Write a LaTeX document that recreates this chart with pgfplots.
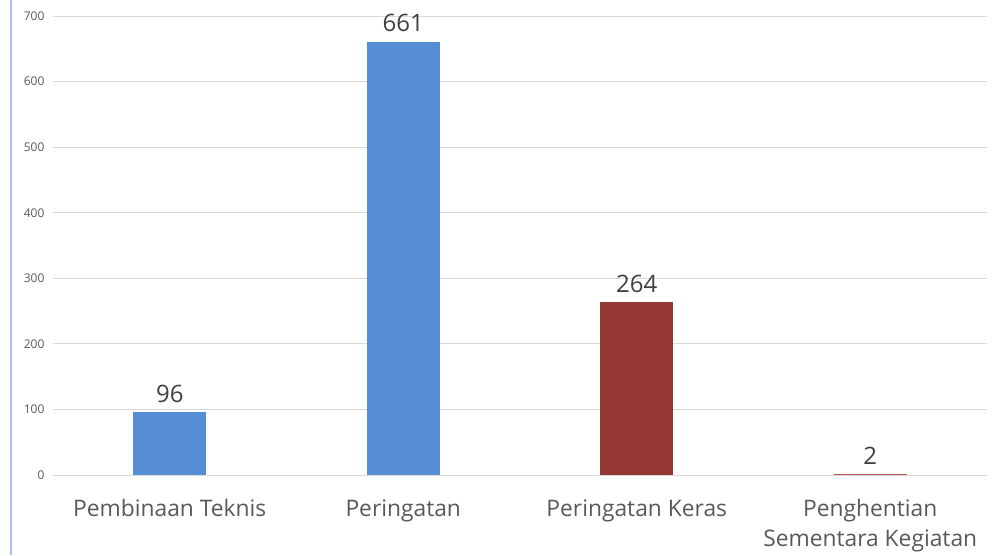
\documentclass[border=0pt]{standalone}
\usepackage{pgfplots}
\pgfplotsset{compat=1.18}
\usepackage{fontspec}
\setmainfont{Open Sans}
\definecolor{barblue}{HTML}{558ED5}
\definecolor{bardred}{HTML}{953735}
\definecolor{barred}{HTML}{C0504D}
\definecolor{gridc}{HTML}{D9D9D9}
\definecolor{labc}{HTML}{595959}
\definecolor{valc}{HTML}{404040}
\definecolor{edgec}{HTML}{A7C3E5}
\begin{document}
\begin{tikzpicture}
\path[use as bounding box] (0,0) rectangle (999pt,555pt);
\begin{axis}[
  at={(53pt,80pt)}, anchor=south west,
  scale only axis, width=934pt, height=459pt,
  xmin=-0.5, xmax=3.5, ymin=0, ymax=700,
  ytick={0,100,...,700},
  xtick={0,1,2,3},
  xticklabels={Pembinaan Teknis,Peringatan,Peringatan Keras,{Penghentian\\Sementara Kegiatan}},
  xticklabel style={align=center, font=\fontsize{22.8}{30}\selectfont, text=labc, yshift=-21pt},
  yticklabel style={font=\fontsize{12}{14}\selectfont, text=labc, xshift=-5pt},
  /pgf/number format/assume math mode=true,
  ymajorgrids, grid style={gridc, line width=1pt},
  axis line style={draw=none},
  major tick length=0pt,
  ybar, bar width=73pt, bar shift=0pt,
  nodes near coords,
  every node near coord/.append style={font=\fontsize{24}{28}\selectfont, text=valc, yshift=6pt},
  clip=false,
]
\addplot[fill=barblue, draw=none] coordinates {(0,96)};
\addplot[fill=barblue, draw=none] coordinates {(1,661)};
\addplot[fill=bardred, draw=none] coordinates {(2,264)};
\addplot[fill=barred, draw=none] coordinates {(3,2)};
\end{axis}
\draw[edgec, line width=2pt] (11pt,0) -- (11pt,555pt);
\end{tikzpicture}
\end{document}
